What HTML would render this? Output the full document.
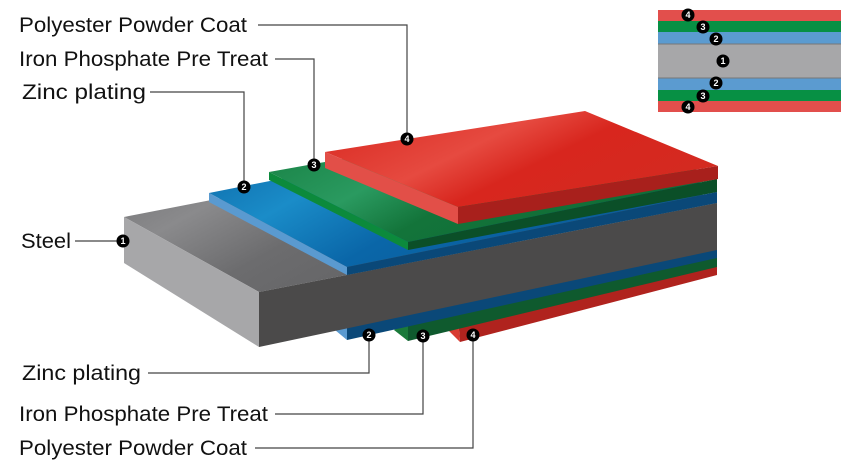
<!DOCTYPE html>
<html><head><meta charset="utf-8"><style>
html,body{margin:0;padding:0;background:#fff}
svg{display:block}
text{font-family:"Liberation Sans",sans-serif}
</style></head><body>
<svg width="855" height="468" viewBox="0 0 855 468" xmlns="http://www.w3.org/2000/svg">
<defs>
<linearGradient id="gs" x1="0" y1="0" x2="1" y2="0.5"><stop offset="0" stop-color="#6a6a6c"/><stop offset="0.3" stop-color="#8a8a8c"/><stop offset="0.5" stop-color="#6c6c6e"/><stop offset="1" stop-color="#5a5a5c"/></linearGradient>
<linearGradient id="gb" x1="0" y1="0" x2="1" y2="0.5"><stop offset="0" stop-color="#0a5f9e"/><stop offset="0.35" stop-color="#1a8cc8"/><stop offset="0.6" stop-color="#0a66a8"/><stop offset="1" stop-color="#0a5a98"/></linearGradient>
<linearGradient id="gg" x1="0" y1="0" x2="1" y2="0.5"><stop offset="0" stop-color="#137a3c"/><stop offset="0.4" stop-color="#2a9a60"/><stop offset="0.6" stop-color="#13743a"/><stop offset="1" stop-color="#106c36"/></linearGradient>
<linearGradient id="gr" x1="0" y1="0" x2="1" y2="0.5"><stop offset="0" stop-color="#d8261e"/><stop offset="0.45" stop-color="#e64a40"/><stop offset="0.65" stop-color="#d8261e"/><stop offset="1" stop-color="#d42a20"/></linearGradient>
</defs>
<polygon points="458,318 717,262 717,275 460,342" fill="#b0231e"/>
<polygon points="448,330 460,342 458,318" fill="#d83a30"/>
<polygon points="406,320 717,254 717,267 408,341" fill="#0f5a2e"/>
<polygon points="394,330 408,341 408,320" fill="#1a7a3a"/>
<polygon points="347,322 717,246 717,258 347,340" fill="#0a4878"/>
<polygon points="335,330 347,340 347,322" fill="#5a9ad0"/>
<polygon points="124,217 582,128 717,203 259,292" fill="url(#gs)"/>
<polygon points="124,217 259,292 259,347 124,263" fill="#a7a7a9"/>
<polygon points="259,292 717,203 717,250 259,347" fill="#4b4a4a"/>
<polygon points="209,193 579,120 717,192 347,267" fill="url(#gb)"/>
<polygon points="209,193 347,267 347,275 209,202" fill="#5a9ad0"/>
<polygon points="347,267 717,192 717,203 347,275" fill="#0a4878"/>
<polygon points="269,172 575,117 717,179 408,242" fill="url(#gg)"/>
<polygon points="269,172 408,242 408,250 269,180" fill="#0c8a3c"/>
<polygon points="408,242 717,179 717,192 408,250" fill="#0b4f28"/>
<polygon points="325,152 585,111 718,166 458,207" fill="url(#gr)"/>
<polygon points="325,152 458,207 458,224 325,168" fill="#e24f48"/>
<polygon points="458,207 718,166 718,179 458,224" fill="#a8201c"/>
<g stroke="#444" stroke-width="1.2" fill="none">
<polyline points="258,25 407,25 407,139"/>
<polyline points="275,59 314,59 314,165"/>
<polyline points="150,92 244,92 244,187"/>
<polyline points="75,241 123,241"/>
<polyline points="148,373 369,373 369,335"/>
<polyline points="275,414 423,414 423,336"/>
<polyline points="255,448 473,448 473,335"/>
</g>
<rect x="658" y="10" width="183" height="11" fill="#e24f4c"/>
<rect x="658" y="21" width="183" height="11" fill="#079044"/>
<rect x="658" y="32" width="183" height="12" fill="#5b9bd0"/>
<rect x="658" y="44" width="183" height="34" fill="#a7a7a9"/>
<rect x="658" y="78" width="183" height="12" fill="#5b9bd0"/>
<rect x="658" y="90" width="183" height="11" fill="#079044"/>
<rect x="658" y="101" width="183" height="11" fill="#e24f4c"/>
<line x1="658" y1="44" x2="841" y2="44" stroke="#777" stroke-width="1"/>
<line x1="658" y1="78" x2="841" y2="78" stroke="#777" stroke-width="1"/>
<g font-size="9" font-weight="bold" fill="#fff" text-anchor="middle">
<g><circle cx="407" cy="139" r="6.5" fill="#000"/><text x="407" y="142">4</text></g>
<g><circle cx="314" cy="165" r="6.5" fill="#000"/><text x="314" y="168">3</text></g>
<g><circle cx="244" cy="187" r="6.5" fill="#000"/><text x="244" y="190">2</text></g>
<g><circle cx="123" cy="241" r="6.5" fill="#000"/><text x="123" y="244">1</text></g>
<g><circle cx="369" cy="335" r="6.5" fill="#000"/><text x="369" y="338">2</text></g>
<g><circle cx="423" cy="336" r="6.5" fill="#000"/><text x="423" y="339">3</text></g>
<g><circle cx="473" cy="335" r="6.5" fill="#000"/><text x="473" y="338">4</text></g>
<g><circle cx="688" cy="15" r="6.5" fill="#000"/><text x="688" y="18">4</text></g>
<g><circle cx="703" cy="27" r="6.5" fill="#000"/><text x="703" y="30">3</text></g>
<g><circle cx="716" cy="39" r="6.5" fill="#000"/><text x="716" y="42">2</text></g>
<g><circle cx="723" cy="61" r="6.5" fill="#000"/><text x="723" y="64">1</text></g>
<g><circle cx="716" cy="83" r="6.5" fill="#000"/><text x="716" y="86">2</text></g>
<g><circle cx="703" cy="96" r="6.5" fill="#000"/><text x="703" y="99">3</text></g>
<g><circle cx="688" cy="107" r="6.5" fill="#000"/><text x="688" y="110">4</text></g>
</g>
<g font-size="21" fill="#111">
<text x="19" y="32" textLength="228" lengthAdjust="spacingAndGlyphs">Polyester Powder Coat</text>
<text x="19" y="66" textLength="249" lengthAdjust="spacingAndGlyphs">Iron Phosphate Pre Treat</text>
<text x="22" y="99" textLength="124" lengthAdjust="spacingAndGlyphs">Zinc plating</text>
<text x="21" y="248" textLength="50" lengthAdjust="spacingAndGlyphs">Steel</text>
<text x="22" y="380" textLength="119" lengthAdjust="spacingAndGlyphs">Zinc plating</text>
<text x="19" y="421" textLength="249" lengthAdjust="spacingAndGlyphs">Iron Phosphate Pre Treat</text>
<text x="19" y="455" textLength="228" lengthAdjust="spacingAndGlyphs">Polyester Powder Coat</text>
</g>
</svg>
</body></html>
